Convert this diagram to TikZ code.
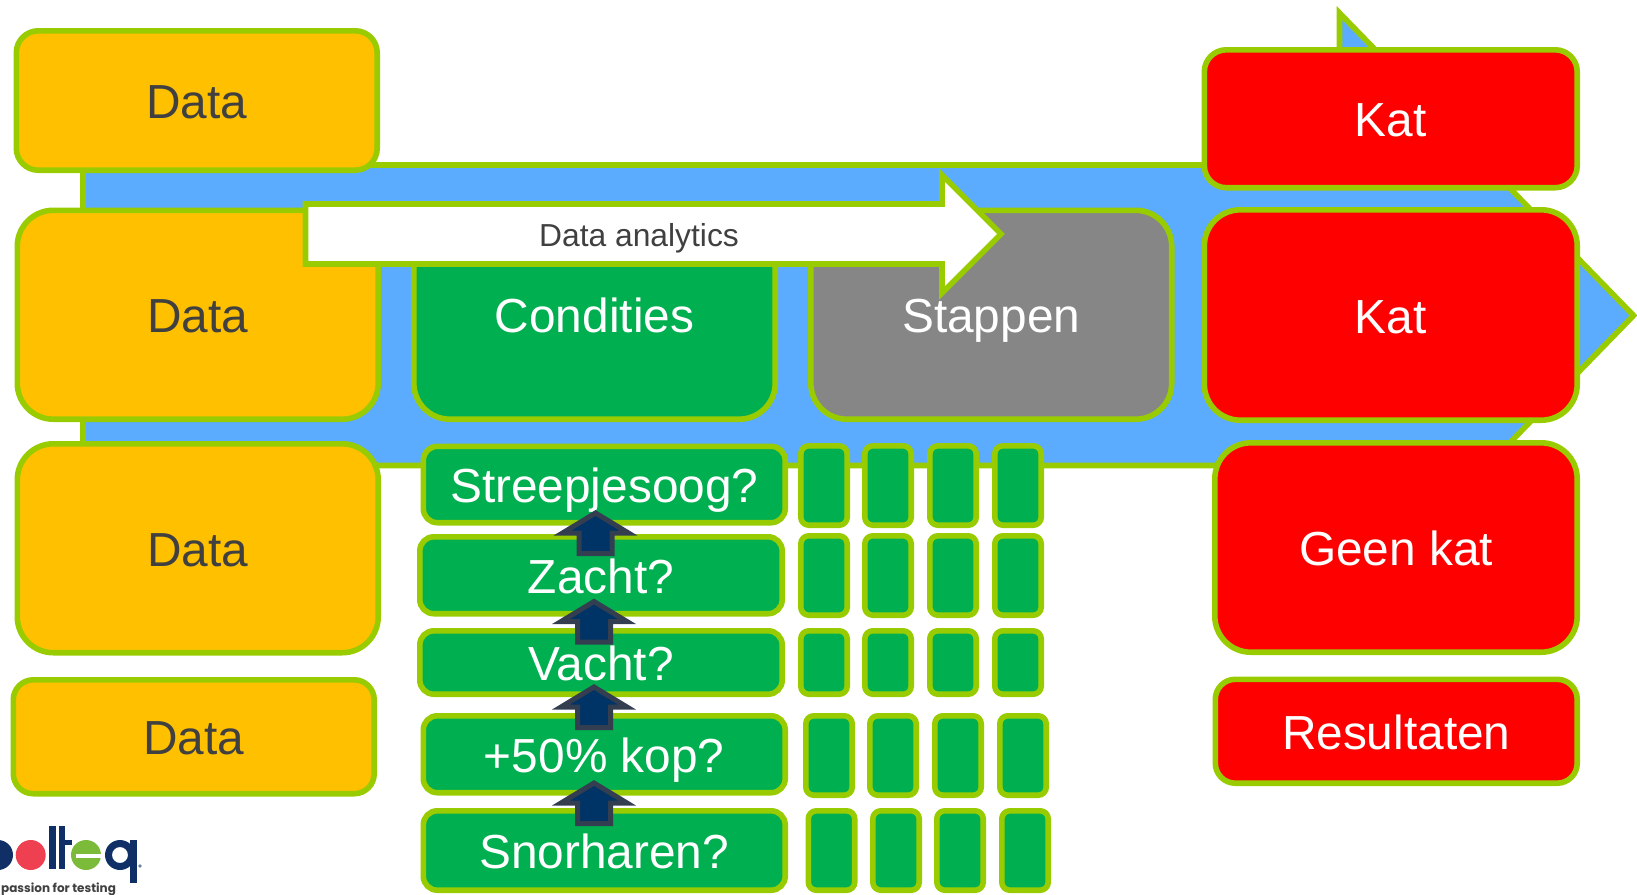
\documentclass[tikz,border=0pt]{standalone}
\usepackage{fontspec}
\setmainfont{Liberation Sans}
\newfontfamily\logofont{Poppins}
\definecolor{edgegreen}{HTML}{99CC00}
\definecolor{skyfill}{HTML}{5BABFF}
\definecolor{orangefill}{HTML}{FFC000}
\definecolor{redfill}{HTML}{FF0000}
\definecolor{greenfill}{HTML}{00B050}
\definecolor{greyfill}{HTML}{868686}
\definecolor{darktext}{HTML}{404040}
\definecolor{navyfill}{HTML}{003366}
\definecolor{navyedge}{HTML}{333F50}
\definecolor{logonavy}{HTML}{0F2F66}
\definecolor{logored}{HTML}{EE4050}
\definecolor{logogreen}{HTML}{7CBB3A}
\tikzset{
  x=1pt,y=-1pt,
  bigtext/.style={font=\fontsize{47.8}{50}\selectfont},
  boxbase/.style={draw=edgegreen,line width=5.6pt,inner sep=0pt,outer sep=0pt,bigtext,align=center,text height=36pt,text depth=0pt},
  databox/.style={boxbase,fill=orangefill,text=darktext},
  redbox/.style={boxbase,fill=redfill,text=white},
  greenbox/.style={boxbase,fill=greenfill,text=white},
  greybox/.style={boxbase,fill=greyfill,text=white},
  cellbox/.style={boxbase,fill=greenfill,rounded corners=8pt},
  questionbox/.style={boxbase,fill=greenfill,text=white,rounded corners=14pt},
  blockshape/.style={draw=edgegreen,line width=5.6pt,miter limit=10},
  uparrow/.style={draw=navyedge,fill=navyfill,line width=5pt,miter limit=10},
}
% outer left, top, right, bottom; style; name; text
\newcommand{\bx}[7]{%
  \node[#5,minimum width={#3-#1-5.6},minimum height={#4-#2-5.6}] (#6)
    at ({(#1+#3)/2},{(#2+#4)/2}) {#7};}
\newcommand{\cellrow}[6]{%
  \bx{#1}{#5}{#1+52}{#6}{cellbox}{c#2#5a}{}
  \bx{#2}{#5}{#2+52}{#6}{cellbox}{c#2#5b}{}
  \bx{#3}{#5}{#3+52}{#6}{cellbox}{c#2#5c}{}
  \bx{#4}{#5}{#4+52}{#6}{cellbox}{c#2#5d}{}}
% centre x, tip y
\newcommand{\uparr}[2]{%
  \draw[uparrow] (#1,#2+4) -- (#1+33,#2+24) -- (#1+16.5,#2+24) -- (#1+16.5,#2+44.5)
    -- (#1-16.5,#2+44.5) -- (#1-16.5,#2+24) -- (#1-33,#2+24) -- cycle;}
\begin{document}
\begin{tikzpicture}
\useasboundingbox (0,0) rectangle (1637,894);
\clip (0,0) rectangle (1637,894);
% big arrow
\draw[blockshape,fill=skyfill] (83,165) -- (1339.5,165) -- (1339.5,13) -- (1633.5,315.5)
  -- (1339.5,618) -- (1339.5,465.5) -- (83,465.5) -- cycle;
% left column
\bx{13.5}{28}{380}{173}{databox,rounded corners=22pt}{d1}{Data}
\bx{14.5}{207.5}{381}{422}{databox,rounded corners=36pt}{d2}{Data}
\bx{14.5}{441}{381}{655.5}{databox,rounded corners=36pt}{d3}{Data}
\bx{10.5}{677}{377}{796.5}{databox,rounded corners=20pt}{d4}{Data}
% middle
\bx{411}{207.5}{778}{422}{greenbox,rounded corners=36pt}{cond}{Condities}
\bx{808}{207.5}{1174.5}{422}{greybox,rounded corners=36pt}{stap}{Stappen}
% right column
\bx{1201.5}{47}{1580}{190.5}{redbox,rounded corners=22pt}{k1}{Kat}
\bx{1201.5}{207}{1580}{423}{redbox,rounded corners=36pt}{k2}{Kat}
\bx{1212}{440}{1580}{655}{redbox,rounded corners=36pt}{gk}{Geen kat}
\bx{1212.5}{676.5}{1580}{786}{redbox,rounded corners=20pt}{res}{Resultaten}
% question boxes
\bx{420.5}{443.5}{788}{525.5}{questionbox}{q1}{Streepjesoog?}
\bx{417}{534}{785}{616.5}{questionbox}{q2}{Zacht?}
\bx{417}{628}{785}{697}{questionbox}{q3}{Vacht?}
\bx{420.5}{713}{788}{795.5}{questionbox}{q4}{+50\% kop?}
\bx{420.5}{808}{788}{893}{questionbox}{q5}{Snorharen?}
% cells
\cellrow{798}{862}{927}{992}{443}{528}
\cellrow{798}{862}{927}{992}{533}{618}
\cellrow{798}{862}{927}{992}{628}{697}
\cellrow{803}{867}{932}{997}{713}{798}
\cellrow{805.5}{870}{934}{999}{808}{893}
% up arrows
\uparr{595.5}{509}
\uparr{594}{597.5}
\uparr{594}{683}
\uparr{594}{779}
% data analytics arrow
\draw[blockshape,fill=white] (305.5,204) -- (942,204) -- (942,175) -- (1001,234)
  -- (942,293) -- (942,264) -- (305.5,264) -- cycle;
\node[font=\fontsize{31.8}{34}\selectfont,text=darktext,inner sep=0pt] (dalabel) at (639,238) {Data analytics};
% logo
\fill[logonavy] (-2,855) circle (15);
\fill[logored] (30.7,855) circle (15);
\fill[logonavy] (49,826) rectangle (55.7,869);
\fill[logonavy] (58.5,826) rectangle (65,869);
\fill[logonavy] (65,840) rectangle (71.5,845);
\fill[logogreen] (86,855) circle (15);
\fill[white] (76,853.5) rectangle (101,857.5);
\fill[logonavy,even odd rule] (120,855) circle (15) (120,855) circle (8);
\fill[logonavy] (129.5,840) rectangle (136.5,883);
\fill[logonavy!60] (140,866) circle (1.8);
\node[font=\logofont\bfseries\fontsize{12}{14}\selectfont,text=darktext,anchor=base west,inner sep=0pt] (logotext) at (1,892) {passion for testing};
\end{tikzpicture}
\end{document}
